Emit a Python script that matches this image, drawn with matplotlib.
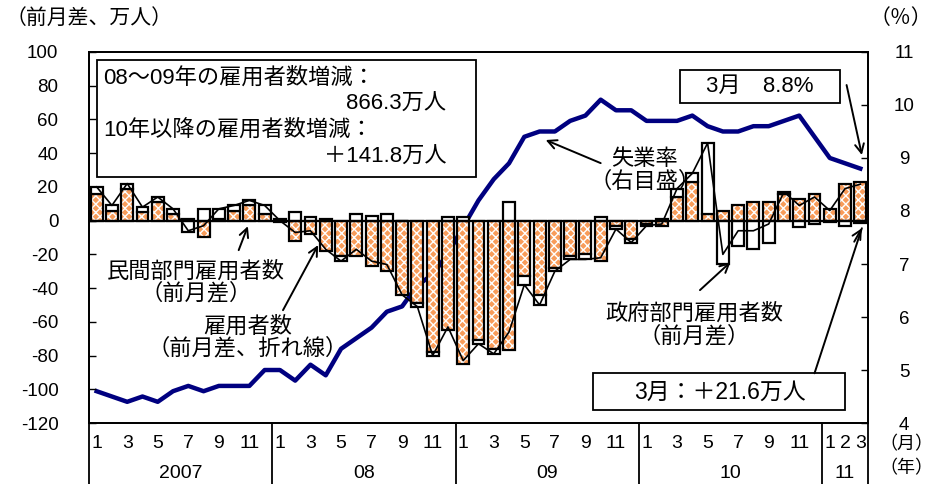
import matplotlib
matplotlib.use("Agg")
import matplotlib.pyplot as plt
from matplotlib.patches import Rectangle
from matplotlib.transforms import blended_transform_factory

plt.rcParams['font.family'] = ['Liberation Sans', 'Noto Sans CJK JP', 'DejaVu Sans']
plt.rcParams['hatch.linewidth'] = 1.0
plt.rcParams['axes.unicode_minus'] = False

# monthly change (10k persons), Jan 2007 - Mar 2011
private = [16, 6, 19, 5, 11, 4, 1, -10, 1, 6, 9, 4,
           -1, -12, -8, -18, -21, -21, -27, -30, -44, -49, -78, -65,
           -85, -71, -76, -77, -33, -44, -28, -21, -20, -24, -3, -11,
           -2, -3, 14, 23, 4, 6, 9, 11, 11, 16, 13, 16,
           7, 22, 23.0]
government = [4, 3, 3, 3, 3, 3, -7, 7, 6, 3, 3, 5,
              1, 5, 2, 1, -3, 4, 3, 4, 0, -2, -2, 2,
              2, -2, -3, 11, -5, -6, -2, -2, -3, 2, -2, -2,
              -1, 1, 5, 5, 42, -26, -15, -17, -13, 1, -4, -2,
              -1, -3, -1.4]
unemployment = [4.6, 4.5, 4.4, 4.5, 4.4, 4.6, 4.7, 4.6, 4.7, 4.7, 4.7, 5.0,
                5.0, 4.8, 5.1, 4.9, 5.4, 5.6, 5.8, 6.1, 6.2, 6.6, 6.8, 7.2,
                7.7, 8.2, 8.6, 8.9, 9.4, 9.5, 9.5, 9.7, 9.8, 10.1, 9.9, 9.9,
                9.7, 9.7, 9.7, 9.8, 9.6, 9.5, 9.5, 9.6, 9.6, 9.7, 9.8, 9.4,
                9.0, 8.9, 8.8]
month_labels = ['1', '', '3', '', '5', '', '7', '', '9', '', '11', ''] * 4 + ['1', '2', '3']
years = ['2007', '08', '09', '10', '11']
year_lengths = [12, 12, 12, 12, 3]

total = [p + g for p, g in zip(private, government)]
x = list(range(len(private)))

# government bar sits on the private bar when signs agree
gov_bottom = []
for p, g in zip(private, government):
    if g >= 0:
        gov_bottom.append(max(p, 0))
    else:
        gov_bottom.append(min(p, 0))

fig = plt.figure(figsize=(9.33, 4.84), dpi=100)
ax = fig.add_axes([0.0954, 0.126, 0.8349, 0.7666])
ax2 = ax.twinx()
ax.set_zorder(ax2.get_zorder() + 1)
ax.patch.set_visible(False)

w = 0.78
ax.bar(x, private, width=w, color='#f89c5a', edgecolor='white', hatch='xxxx', linewidth=0, zorder=2)
ax.bar(x, private, width=w, fill=False, edgecolor='black', linewidth=1.6, zorder=3)
ax.bar(x, government, width=w, bottom=gov_bottom, color='white', edgecolor='black', linewidth=1.6, zorder=3)
ax.plot(x, total, color='black', lw=1.2, zorder=4)
ax.axhline(0, color='black', lw=1.6, zorder=3.5)

ax2.plot(x, unemployment, color='#000080', lw=3.2, solid_joinstyle='round')

ax.set_xlim(-0.5, len(x) - 0.5)
ax.set_ylim(-120, 100)
ax.set_yticks(range(-120, 101, 20))
ax2.set_ylim(4, 11)
ax2.set_yticks(range(4, 12))
ax.set_xticks([])
ax.tick_params(axis='y', direction='in', length=5, width=1, labelsize=13.5, pad=22)
ax2.tick_params(axis='y', direction='in', length=5, width=1, labelsize=13.5, pad=26)
for lab in ax2.get_yticklabels():
    lab.set_ha('center')
for a in (ax, ax2):
    for s in a.spines.values():
        s.set_linewidth(1.3)

# two-level category axis
tr = blended_transform_factory(ax.transData, ax.transAxes)
for i, lab in enumerate(month_labels):
    ax.text(i, -0.054, lab, transform=tr, ha='center', va='center', fontsize=14)
start = 0
edges = [-0.5]
for yr, n in zip(years, year_lengths):
    ax.text(start + (n - 1) / 2, -0.135, yr, transform=tr, ha='center', va='center', fontsize=14)
    start += n
    edges.append(start - 0.5)
for e in edges:
    ax.plot([e, e], [0, -0.17], transform=tr, color='black', lw=1.3, clip_on=False)
fig.text(906 / 933, 1 - 445 / 484, '（月）', ha='center', va='center', fontsize=13)
fig.text(906 / 933, 1 - 469 / 484, '（年）', ha='center', va='center', fontsize=13)
fig.text(6 / 933, 1 - 18 / 484, '（前月差、万人）', ha='left', va='center', fontsize=15)
fig.text(932 / 933, 1 - 18 / 484, '（％）', ha='right', va='center', fontsize=15)

# summary box
ax.add_patch(Rectangle((0.02, 25.8), 24.8, 69.5, facecolor='white', edgecolor='black', lw=1.3, zorder=5))
ax.text(0.42, 84.6, '08～09年の雇用者数増減：', ha='left', va='center', fontsize=16, zorder=6)
ax.text(22.9, 69.1, '866.3万人', ha='right', va='center', fontsize=16, zorder=6)
ax.text(0.42, 53.7, '10年以降の雇用者数増減：', ha='left', va='center', fontsize=16, zorder=6)
ax.text(22.9, 37.7, '＋141.8万人', ha='right', va='center', fontsize=16, zorder=6)

# latest values
ax.add_patch(Rectangle((38.2, 69.7), 10.5, 19.6, facecolor='white', edgecolor='black', lw=1.3, zorder=5))
ax.text(43.4, 79.8, '3月　8.8%', ha='center', va='center', fontsize=16, zorder=6)
ax.add_patch(Rectangle((32.5, -112.5), 16.5, 22.0, facecolor='white', edgecolor='black', lw=1.3, zorder=5))
ax.text(40.8, -101.8, '3月：＋21.6万人', ha='center', va='center', fontsize=16.5, zorder=6)

arrow = dict(arrowstyle='->', color='black', lw=1.4, mutation_scale=16, shrinkA=0, shrinkB=0)
line = dict(arrowstyle='-', color='black', lw=1.4, shrinkA=0, shrinkB=0)
ax.annotate('', xy=(50.1, 38.9), xytext=(49.1, 80.4), arrowprops=arrow, zorder=6)
ax.annotate('', xy=(50.1, -4.5), xytext=(47.0, -90.5), arrowprops=line, zorder=6)
ax.annotate('', xy=(50.1, -4.5), xytext=(49.6, -12.5), arrowprops=arrow, zorder=6)

# series labels
ax.text(35.9, 29.5, '失業率\n（右目盛）', ha='center', va='center', fontsize=16, linespacing=1.05, zorder=6)
ax.annotate('', xy=(29.4, 47.8), xytext=(33.0, 34.1), arrowprops=arrow, zorder=6)
ax.text(6.5, -37, '民間部門雇用者数\n（前月差）', ha='center', va='center', fontsize=16, linespacing=1.05, zorder=6)
ax.annotate('', xy=(9.9, -3.3), xytext=(9.3, -17.5), arrowprops=arrow, zorder=6)
ax.text(9.9, -69.5, '雇用者数\n（前月差、折れ線）', ha='center', va='center', fontsize=16, linespacing=1.05, zorder=6)
ax.annotate('', xy=(14.5, -14.5), xytext=(12.2, -53.1), arrowprops=arrow, zorder=6)
ax.text(39.1, -62, '政府部門雇用者数\n（前月差）', ha='center', va='center', fontsize=16, linespacing=1.05, zorder=6)
ax.annotate('', xy=(41.5, -24.6), xytext=(39.5, -41.2), arrowprops=arrow, zorder=6)

fig.savefig('out.png', dpi=100)
